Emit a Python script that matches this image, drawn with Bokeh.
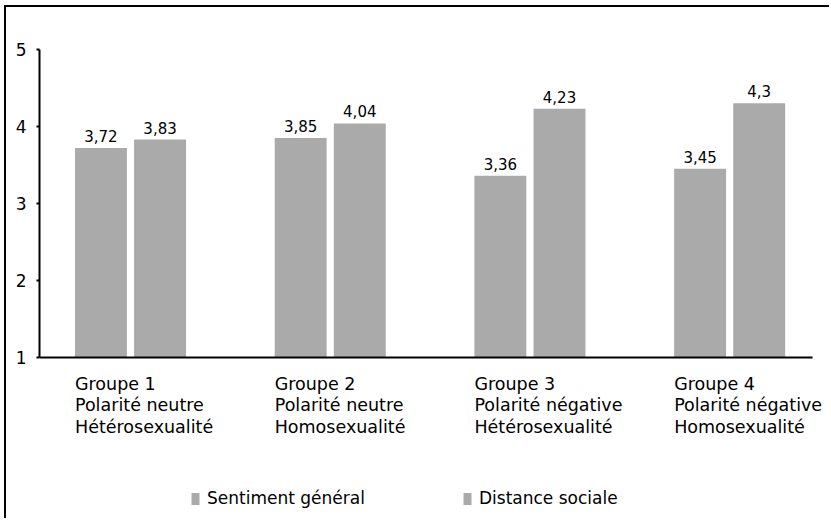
from bokeh.plotting import figure
from bokeh.models import FixedTicker, Legend, LegendItem, Range1d
from bokeh.embed import file_html
from bokeh.resources import INLINE
from bokeh.core.properties import value
import numpy as np

# ---- data ----
groups = ["Groupe 1", "Groupe 2", "Groupe 3", "Groupe 4"]
polarity = ["Polarité neutre", "Polarité neutre", "Polarité négative", "Polarité négative"]
orientation = ["Hétérosexualité", "Homosexualité", "Hétérosexualité", "Homosexualité"]
series_names = ["Sentiment général", "Distance sociale"]
sentiment = [3.72, 3.85, 3.36, 3.45]
distance = [3.83, 4.04, 4.23, 4.30]
sentiment_labels = ["3,72", "3,85", "3,36", "3,45"]
distance_labels = ["3,83", "4,04", "4,23", "4,3"]
y_ticks = [1, 2, 3, 4, 5]

# ---- style ----
BAR = "#aaaaaa"
FONT = "DejaVu Sans"
OFF = 0.148
W = 0.26
BASE = 1

idx = np.arange(len(groups))
x_start, x_end = -0.4557, 3.510

p = figure(width=825, height=513, output_backend="svg", toolbar_location=None,
           x_range=Range1d(x_start, x_end), y_range=Range1d(-1.117, 5.545),
           x_axis_location=None, y_axis_location="left",
           min_border_left=33, min_border_right=0, min_border_top=0, min_border_bottom=0,
           outline_line_color=None, tools="",
           styles={"border-left": "2px solid #000", "border-top": "2px solid #000",
                   "margin-left": "4px", "margin-top": "5px"})
p.grid.grid_line_color = None

ax = p.yaxis[0]
ax.ticker = FixedTicker(ticks=y_ticks)
ax.bounds = (min(y_ticks), max(y_ticks))
ax.axis_line_width = 2
ax.axis_line_color = "#000"
ax.major_tick_out = 3
ax.major_tick_in = 0
ax.major_tick_line_width = 2
ax.minor_tick_out = 0
ax.minor_tick_in = 0
ax.major_label_standoff = 10
ax.major_label_text_font = FONT
ax.major_label_text_font_size = "17px"
ax.major_label_text_color = "#000"

r1 = p.vbar(x=idx - OFF, width=W, bottom=BASE, top=sentiment, fill_color=BAR, line_color=None)
r2 = p.vbar(x=idx + OFF, width=W, bottom=BASE, top=distance, fill_color=BAR, line_color=None)

# baseline (x axis line)
p.segment(x0=[x_start], y0=[BASE], x1=[len(groups) - 1 + 0.415], y1=[BASE],
          line_color="#000", line_width=2)

# value labels
for xs, vals, labs in ((idx - OFF, sentiment, sentiment_labels),
                       (idx + OFF, distance, distance_labels)):
    p.text(x=xs, y=vals, text=labs, text_align="center",
           text_baseline="alphabetic", y_offset=-12, text_font=value(FONT),
           text_font_size="15px", text_color="#000")

# category labels (three lines, left aligned at the first bar)
lx = idx - OFF - W / 2
for lines, yv in ((groups, 0.662), (polarity, 0.377), (orientation, 0.091)):
    p.text(x=lx, y=[yv] * len(groups), text=lines, text_align="left",
           text_baseline="middle", text_font=value(FONT), text_font_size="17.5px",
           text_color="#000")

for r, name, loc in ((r1, series_names[0], (151, 12)), (r2, series_names[1], (423, 12))):
    lg = Legend(items=[LegendItem(label=name, renderers=[r])], location=loc,
                orientation="horizontal", glyph_width=10, glyph_height=15,
                label_standoff=7, padding=0, margin=0, border_line_color=None,
                background_fill_alpha=0, label_text_font=FONT,
                label_text_font_size="17px", label_text_color="#000")
    p.add_layout(lg)

open("out.html", "w").write(file_html(p, INLINE))
